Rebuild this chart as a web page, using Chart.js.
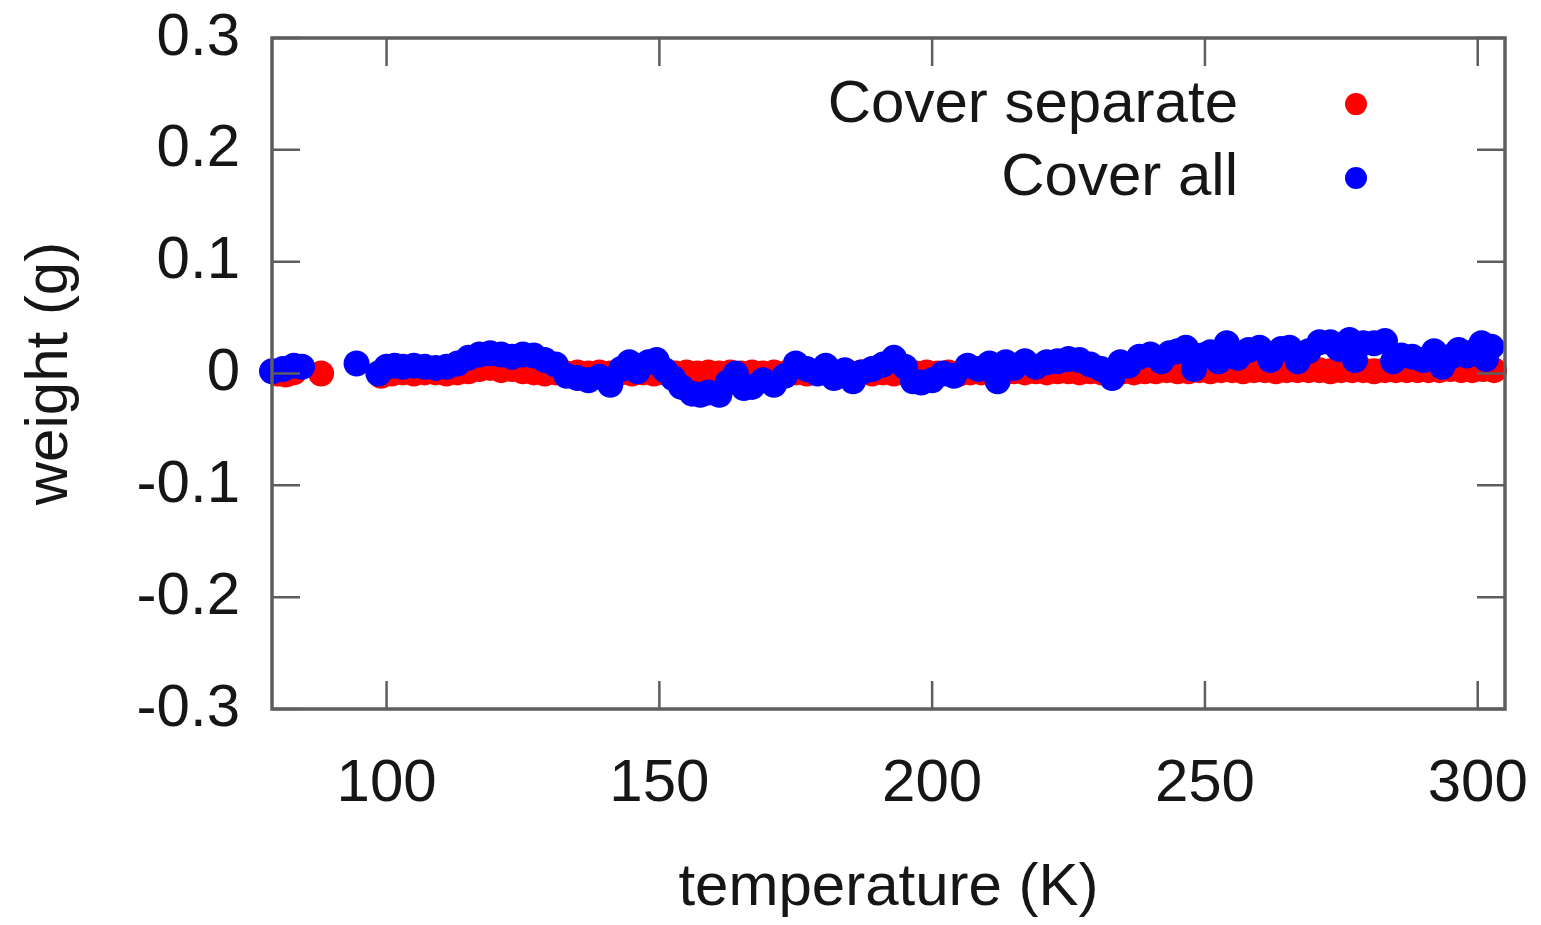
<!DOCTYPE html>
<html>
<head>
<meta charset="utf-8">
<script src="https://cdn.jsdelivr.net/npm/chart.js@4"></script>
<style>
  html, body { margin: 0; padding: 0; background: #fff; }
  #wrap { width: 1541px; height: 925px; }
</style>
</head>
<body>
<div id="wrap"><canvas id="chart" width="1541" height="925"></canvas></div>
<script>
// temperature (K) / weight (g)
const sepTemp = [80, 81.5, 83, 88, 99, 101, 103, 105, 107, 109, 111, 113, 115, 117, 119, 121, 123, 125, 127, 129,
  131, 133, 135, 137, 139, 141, 143, 145, 147, 149, 151, 153, 155, 157, 159, 161, 163, 165, 167, 169,
  171, 173, 175, 177, 179, 181, 183, 185, 187, 189, 191, 193, 195, 197, 199, 201, 203, 205, 207, 209,
  211, 213, 215, 217, 219, 221, 223, 225, 227, 229, 231, 233, 235, 237, 239, 241, 243, 245, 247, 249,
  251, 253, 255, 257, 259, 261, 263, 265, 267, 269, 271, 273, 275, 277, 279, 281, 283, 285, 287, 289,
  291, 293, 295, 297, 299, 301, 303];
const sepWeight = [0.000, -0.001, 0.001, 0.000, -0.002, 0.000, 0.001, 0.000, 0.001, 0.001, 0.000, 0.001, 0.002, 0.004, 0.005, 0.003, 0.004, 0.002, 0.001, 0.000,
  0.001, 0.000, 0.001, 0.000, 0.001, 0.000, 0.001, 0.000, 0.001, 0.000, 0.001, 0.000, 0.001, 0.000, 0.001, 0.000, 0.001, 0.000, 0.001, 0.000,
  0.001, 0.000, 0.001, 0.000, 0.001, 0.000, 0.001, 0.000, 0.001, 0.000, 0.001, 0.000, 0.001, 0.000, 0.001, 0.000, 0.001, 0.000, 0.001, 0.001,
  0.002, 0.001, 0.002, 0.001, 0.002, 0.001, 0.002, 0.002, 0.001, 0.002, 0.001, 0.002, 0.002, 0.001, 0.002, 0.002, 0.003, 0.002, 0.002, 0.003,
  0.002, 0.003, 0.003, 0.002, 0.003, 0.003, 0.002, 0.003, 0.003, 0.003, 0.003, 0.002, 0.003, 0.003, 0.003, 0.002, 0.003, 0.003, 0.003, 0.003,
  0.003, 0.003, 0.004, 0.003, 0.003, 0.004, 0.003];

const allTemp = [79, 81, 83, 84.5, 94.5, 98.5, 100, 101.5, 103, 105, 107, 109, 111, 113, 115, 117, 119, 121, 123, 125,
  127, 129, 131, 133, 135, 137, 139, 141, 143, 144.5, 146, 148, 149.5, 151, 152.5, 154, 156, 157.5, 159, 161,
  162.5, 164, 165.5, 167, 169, 171, 173, 175, 177, 179, 180.5, 182, 184, 185.5, 187, 189, 191, 193, 195, 196.5,
  198, 200, 202, 204, 206.5, 208.5, 210.5, 212, 213.5, 215, 217, 219, 221, 223, 225, 227, 229, 231, 233, 234.5,
  236, 238, 240, 242, 243.5, 245, 246.5, 248, 249.5, 251, 252.5, 254, 256, 258, 260, 262, 264, 265.5, 267, 269,
  271, 273, 274.5, 276.5, 277.5, 279, 281, 283, 284.5, 286, 288, 290, 292, 293.5, 295, 296.5, 298, 299.5, 300.7, 301.5, 302.5];
const allWeight = [0.002, 0.004, 0.007, 0.006, 0.009, 0.000, 0.006, 0.007, 0.006, 0.007, 0.006, 0.005, 0.006, 0.009, 0.014, 0.017, 0.018, 0.017, 0.015, 0.017,
  0.016, 0.012, 0.008, -0.002, -0.004, -0.006, -0.003, -0.010, 0.004, 0.010, 0.002, 0.010, 0.012, 0.003, -0.004, -0.012, -0.018, -0.019, -0.017, -0.019,
  -0.008, 0.000, -0.013, -0.012, -0.006, -0.010, -0.002, 0.009, 0.004, 0.000, 0.007, -0.004, 0.003, -0.007, 0.001, 0.004, 0.008, 0.014, 0.006, -0.007,
  -0.008, -0.006, 0.000, -0.002, 0.007, 0.004, 0.009, -0.007, 0.010, 0.005, 0.011, 0.006, 0.010, 0.011, 0.013, 0.012, 0.008, 0.004, -0.004, 0.010,
  0.007, 0.015, 0.017, 0.011, 0.018, 0.020, 0.023, 0.004, 0.016, 0.019, 0.011, 0.027, 0.014, 0.021, 0.023, 0.012, 0.022, 0.023, 0.011, 0.020,
  0.028, 0.028, 0.022, 0.030, 0.012, 0.027, 0.027, 0.029, 0.011, 0.016, 0.015, 0.012, 0.020, 0.006, 0.015, 0.021, 0.016, 0.020, 0.027, 0.013, 0.024];

const xTicks = [100, 150, 200, 250, 300];
const yTicks = [-0.3, -0.2, -0.1, 0, 0.1, 0.2, 0.3];
const seriesNames = ["Cover separate", "Cover all"];
const seriesColors = ["#ff0000", "#0000ff"];

const FONT = "'Liberation Sans', Arial, Helvetica, sans-serif";
const TEXT = "#161616";
const FRAME = "#5e5e5e";

function toPoints(xs, ys) {
  return xs.map((x, i) => ({ x: x, y: ys[i] }));
}

// gnuplot style frame, inward ticks on all four sides, key in the upper right
const framePlugin = {
  id: "frame",
  afterDatasetsDraw(chart) {
    const ctx = chart.ctx;
    const a = chart.chartArea;
    const xs = chart.scales.x;
    const ys = chart.scales.y;
    const len = 28;
    ctx.save();
    ctx.strokeStyle = FRAME;
    ctx.lineWidth = 2.5;
    ctx.beginPath();
    xTicks.forEach((v) => {
      const px = xs.getPixelForValue(v);
      ctx.moveTo(px, a.bottom); ctx.lineTo(px, a.bottom - len);
      ctx.moveTo(px, a.top); ctx.lineTo(px, a.top + len);
    });
    yTicks.forEach((v) => {
      const py = ys.getPixelForValue(v);
      ctx.moveTo(a.left, py); ctx.lineTo(a.left + len, py);
      ctx.moveTo(a.right, py); ctx.lineTo(a.right - len, py);
    });
    ctx.stroke();
    ctx.lineWidth = 3.5;
    ctx.strokeRect(a.left, a.top, a.right - a.left, a.bottom - a.top);

    // key
    ctx.font = "60px " + FONT;
    ctx.textAlign = "right";
    ctx.textBaseline = "middle";
    const keyY = [ys.getPixelForValue(0.24), ys.getPixelForValue(0.174)];
    seriesNames.forEach((name, i) => {
      ctx.fillStyle = TEXT;
      ctx.fillText(name, a.left + 966, keyY[i]);
      ctx.fillStyle = seriesColors[i];
      ctx.beginPath();
      ctx.arc(a.left + 1084, keyY[i] - 1, 11, 0, Math.PI * 2);
      ctx.fill();
    });
    ctx.restore();
  },
};

new Chart(document.getElementById("chart"), {
  type: "scatter",
  data: {
    datasets: [
      {
        label: seriesNames[0],
        data: toPoints(sepTemp, sepWeight),
        backgroundColor: seriesColors[0],
        borderWidth: 0,
        pointRadius: 13,
        clip: false,
        order: 2,
      },
      {
        label: seriesNames[1],
        data: toPoints(allTemp, allWeight),
        backgroundColor: seriesColors[1],
        borderWidth: 0,
        pointRadius: 13,
        clip: false,
        order: 1,
      },
    ],
  },
  options: {
    responsive: false,
    animation: false,
    layout: { padding: { top: 38, right: 36, bottom: 0, left: 0 } },
    plugins: {
      legend: { display: false },
      tooltip: { enabled: false },
    },
    scales: {
      x: {
        type: "linear",
        min: 79,
        max: 305,
        afterBuildTicks: (s) => { s.ticks = xTicks.map((v) => ({ value: v })); },
        afterFit: (s) => { s.height = 216; s.paddingLeft = 0; s.paddingRight = 0; },
        grid: { display: false, drawTicks: false },
        border: { display: false },
        ticks: { color: TEXT, font: { family: FONT, size: 60 }, padding: 39, maxRotation: 0 },
        title: { display: true, text: "temperature (K)", color: TEXT, font: { family: FONT, size: 60 }, padding: 1 },
      },
      y: {
        type: "linear",
        min: -0.3,
        max: 0.3,
        afterBuildTicks: (s) => { s.ticks = yTicks.map((v) => ({ value: v })); },
        afterFit: (s) => { s.width = 272; s.paddingTop = 0; s.paddingBottom = 0; },
        grid: { display: false, drawTicks: false },
        border: { display: false },
        ticks: {
          color: TEXT,
          font: { family: FONT, size: 60 },
          padding: 32,
          callback: (v) => String(Number(v.toFixed(1))),
        },
        title: { display: true, text: "weight (g)", color: TEXT, font: { family: FONT, size: 60 }, padding: 14 },
      },
    },
  },
  plugins: [framePlugin],
});
</script>
</body>
</html>
